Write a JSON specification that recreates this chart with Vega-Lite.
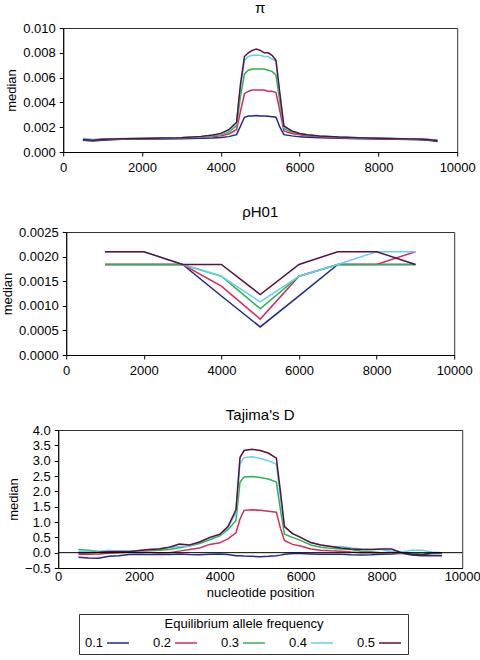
{
"$schema": "https://vega.github.io/schema/vega-lite/v6.json",
"background": "white",
"padding": {"top": 0, "left": 0, "right": 2, "bottom": 2},
"center": true,
"spacing": 29,
"config": {
  "font": "Liberation Sans",
  "view": {"stroke": "#333", "strokeWidth": 1},
  "title": {"fontSize": 15, "fontWeight": "normal", "color": "black", "font": "Liberation Sans"},
  "axis": {"labelFont": "Liberation Sans", "labelFontSize": 13, "labelColor": "black", "titleFont": "Liberation Sans", "titleFontSize": 13, "titleFontWeight": "normal", "titleColor": "black", "domainColor": "black", "tickColor": "black", "tickSize": 4, "grid": false, "labelPadding": 4, "labelOverlap": false, "labelFlush": false},
  "axisX": {"labelPadding": 5},
  "line": {"strokeWidth": 1.5},
  "legend": {"labelFont": "Liberation Sans", "titleFont": "Liberation Sans"}
},
"datasets": {
  "pi": [
{"pos":500,"freq":"0.1","median":0.00095},{"pos":500,"freq":"0.2","median":0.001},{"pos":500,"freq":"0.3","median":0.001},{"pos":500,"freq":"0.4","median":0.0011},{"pos":500,"freq":"0.5","median":0.001},
{"pos":750,"freq":"0.1","median":0.00088},{"pos":750,"freq":"0.2","median":0.00095},{"pos":750,"freq":"0.3","median":0.00098},{"pos":750,"freq":"0.4","median":0.001},{"pos":750,"freq":"0.5","median":0.00095},
{"pos":1000,"freq":"0.1","median":0.00095},{"pos":1000,"freq":"0.2","median":0.001},{"pos":1000,"freq":"0.3","median":0.00102},{"pos":1000,"freq":"0.4","median":0.00105},{"pos":1000,"freq":"0.5","median":0.00102},
{"pos":1500,"freq":"0.1","median":0.00102},{"pos":1500,"freq":"0.2","median":0.00106},{"pos":1500,"freq":"0.3","median":0.00105},{"pos":1500,"freq":"0.4","median":0.00108},{"pos":1500,"freq":"0.5","median":0.00107},
{"pos":2000,"freq":"0.1","median":0.00104},{"pos":2000,"freq":"0.2","median":0.00108},{"pos":2000,"freq":"0.3","median":0.00108},{"pos":2000,"freq":"0.4","median":0.0011},{"pos":2000,"freq":"0.5","median":0.00109},
{"pos":2500,"freq":"0.1","median":0.00105},{"pos":2500,"freq":"0.2","median":0.0011},{"pos":2500,"freq":"0.3","median":0.0011},{"pos":2500,"freq":"0.4","median":0.00112},{"pos":2500,"freq":"0.5","median":0.00112},
{"pos":3000,"freq":"0.1","median":0.00106},{"pos":3000,"freq":"0.2","median":0.00112},{"pos":3000,"freq":"0.3","median":0.00114},{"pos":3000,"freq":"0.4","median":0.00116},{"pos":3000,"freq":"0.5","median":0.00115},
{"pos":3500,"freq":"0.1","median":0.0011},{"pos":3500,"freq":"0.2","median":0.00118},{"pos":3500,"freq":"0.3","median":0.00122},{"pos":3500,"freq":"0.4","median":0.00125},{"pos":3500,"freq":"0.5","median":0.00126},
{"pos":3800,"freq":"0.1","median":0.00112},{"pos":3800,"freq":"0.2","median":0.00124},{"pos":3800,"freq":"0.3","median":0.0013},{"pos":3800,"freq":"0.4","median":0.00135},{"pos":3800,"freq":"0.5","median":0.00138},
{"pos":4000,"freq":"0.1","median":0.00116},{"pos":4000,"freq":"0.2","median":0.0013},{"pos":4000,"freq":"0.3","median":0.0014},{"pos":4000,"freq":"0.4","median":0.00146},{"pos":4000,"freq":"0.5","median":0.0015},
{"pos":4200,"freq":"0.1","median":0.00124},{"pos":4200,"freq":"0.2","median":0.00145},{"pos":4200,"freq":"0.3","median":0.0016},{"pos":4200,"freq":"0.4","median":0.0017},{"pos":4200,"freq":"0.5","median":0.0018},
{"pos":4400,"freq":"0.1","median":0.0014},{"pos":4400,"freq":"0.2","median":0.0018},{"pos":4400,"freq":"0.3","median":0.0021},{"pos":4400,"freq":"0.4","median":0.0023},{"pos":4400,"freq":"0.5","median":0.0024},
{"pos":4500,"freq":"0.1","median":0.0021},{"pos":4500,"freq":"0.2","median":0.0033},{"pos":4500,"freq":"0.3","median":0.0045},{"pos":4500,"freq":"0.4","median":0.0052},{"pos":4500,"freq":"0.5","median":0.0055},
{"pos":4600,"freq":"0.1","median":0.0028},{"pos":4600,"freq":"0.2","median":0.0047},{"pos":4600,"freq":"0.3","median":0.0063},{"pos":4600,"freq":"0.4","median":0.0074},{"pos":4600,"freq":"0.5","median":0.0077},
{"pos":4700,"freq":"0.1","median":0.0029},{"pos":4700,"freq":"0.2","median":0.0049},{"pos":4700,"freq":"0.3","median":0.0066},{"pos":4700,"freq":"0.4","median":0.0077},{"pos":4700,"freq":"0.5","median":0.008},
{"pos":4800,"freq":"0.1","median":0.0029},{"pos":4800,"freq":"0.2","median":0.005},{"pos":4800,"freq":"0.3","median":0.0067},{"pos":4800,"freq":"0.4","median":0.0078},{"pos":4800,"freq":"0.5","median":0.0082},
{"pos":4900,"freq":"0.1","median":0.00295},{"pos":4900,"freq":"0.2","median":0.005},{"pos":4900,"freq":"0.3","median":0.0067},{"pos":4900,"freq":"0.4","median":0.0078},{"pos":4900,"freq":"0.5","median":0.0083},
{"pos":5000,"freq":"0.1","median":0.0029},{"pos":5000,"freq":"0.2","median":0.005},{"pos":5000,"freq":"0.3","median":0.0067},{"pos":5000,"freq":"0.4","median":0.0078},{"pos":5000,"freq":"0.5","median":0.0082},
{"pos":5100,"freq":"0.1","median":0.0029},{"pos":5100,"freq":"0.2","median":0.005},{"pos":5100,"freq":"0.3","median":0.0067},{"pos":5100,"freq":"0.4","median":0.0077},{"pos":5100,"freq":"0.5","median":0.008},
{"pos":5200,"freq":"0.1","median":0.00288},{"pos":5200,"freq":"0.2","median":0.0049},{"pos":5200,"freq":"0.3","median":0.0066},{"pos":5200,"freq":"0.4","median":0.0077},{"pos":5200,"freq":"0.5","median":0.008},
{"pos":5300,"freq":"0.1","median":0.00284},{"pos":5300,"freq":"0.2","median":0.0049},{"pos":5300,"freq":"0.3","median":0.0065},{"pos":5300,"freq":"0.4","median":0.0075},{"pos":5300,"freq":"0.5","median":0.0078},
{"pos":5400,"freq":"0.1","median":0.0028},{"pos":5400,"freq":"0.2","median":0.0048},{"pos":5400,"freq":"0.3","median":0.0062},{"pos":5400,"freq":"0.4","median":0.0073},{"pos":5400,"freq":"0.5","median":0.0074},
{"pos":5500,"freq":"0.1","median":0.002},{"pos":5500,"freq":"0.2","median":0.0033},{"pos":5500,"freq":"0.3","median":0.004},{"pos":5500,"freq":"0.4","median":0.0045},{"pos":5500,"freq":"0.5","median":0.0047},
{"pos":5600,"freq":"0.1","median":0.0014},{"pos":5600,"freq":"0.2","median":0.0017},{"pos":5600,"freq":"0.3","median":0.0019},{"pos":5600,"freq":"0.4","median":0.002},{"pos":5600,"freq":"0.5","median":0.0021},
{"pos":5800,"freq":"0.1","median":0.0013},{"pos":5800,"freq":"0.2","median":0.0015},{"pos":5800,"freq":"0.3","median":0.0016},{"pos":5800,"freq":"0.4","median":0.0017},{"pos":5800,"freq":"0.5","median":0.0017},
{"pos":6000,"freq":"0.1","median":0.00122},{"pos":6000,"freq":"0.2","median":0.0014},{"pos":6000,"freq":"0.3","median":0.00145},{"pos":6000,"freq":"0.4","median":0.0015},{"pos":6000,"freq":"0.5","median":0.0015},
{"pos":6200,"freq":"0.1","median":0.00118},{"pos":6200,"freq":"0.2","median":0.0013},{"pos":6200,"freq":"0.3","median":0.00135},{"pos":6200,"freq":"0.4","median":0.0014},{"pos":6200,"freq":"0.5","median":0.0014},
{"pos":6500,"freq":"0.1","median":0.00114},{"pos":6500,"freq":"0.2","median":0.00122},{"pos":6500,"freq":"0.3","median":0.00126},{"pos":6500,"freq":"0.4","median":0.0013},{"pos":6500,"freq":"0.5","median":0.0013},
{"pos":7000,"freq":"0.1","median":0.0011},{"pos":7000,"freq":"0.2","median":0.00115},{"pos":7000,"freq":"0.3","median":0.00118},{"pos":7000,"freq":"0.4","median":0.0012},{"pos":7000,"freq":"0.5","median":0.0012},
{"pos":7500,"freq":"0.1","median":0.00106},{"pos":7500,"freq":"0.2","median":0.0011},{"pos":7500,"freq":"0.3","median":0.00112},{"pos":7500,"freq":"0.4","median":0.00115},{"pos":7500,"freq":"0.5","median":0.00115},
{"pos":8000,"freq":"0.1","median":0.00104},{"pos":8000,"freq":"0.2","median":0.00108},{"pos":8000,"freq":"0.3","median":0.0011},{"pos":8000,"freq":"0.4","median":0.00112},{"pos":8000,"freq":"0.5","median":0.0011},
{"pos":8500,"freq":"0.1","median":0.00102},{"pos":8500,"freq":"0.2","median":0.00105},{"pos":8500,"freq":"0.3","median":0.00106},{"pos":8500,"freq":"0.4","median":0.00108},{"pos":8500,"freq":"0.5","median":0.00107},
{"pos":9000,"freq":"0.1","median":0.00098},{"pos":9000,"freq":"0.2","median":0.00102},{"pos":9000,"freq":"0.3","median":0.00103},{"pos":9000,"freq":"0.4","median":0.00105},{"pos":9000,"freq":"0.5","median":0.00104},
{"pos":9250,"freq":"0.1","median":0.00094},{"pos":9250,"freq":"0.2","median":0.00098},{"pos":9250,"freq":"0.3","median":0.001},{"pos":9250,"freq":"0.4","median":0.00102},{"pos":9250,"freq":"0.5","median":0.001},
{"pos":9500,"freq":"0.1","median":0.00085},{"pos":9500,"freq":"0.2","median":0.0009},{"pos":9500,"freq":"0.3","median":0.00092},{"pos":9500,"freq":"0.4","median":0.00095},{"pos":9500,"freq":"0.5","median":0.00092}
  ],
  "rho": [
{"pos":1000,"freq":"0.1","median":0.00184},{"pos":2000,"freq":"0.1","median":0.00184},{"pos":3000,"freq":"0.1","median":0.00184},{"pos":4000,"freq":"0.1","median":0.0012},{"pos":5000,"freq":"0.1","median":0.00057},{"pos":6000,"freq":"0.1","median":0.0012},{"pos":7000,"freq":"0.1","median":0.00184},{"pos":8000,"freq":"0.1","median":0.00184},{"pos":9000,"freq":"0.1","median":0.00184},
{"pos":1000,"freq":"0.2","median":0.00184},{"pos":2000,"freq":"0.2","median":0.00184},{"pos":3000,"freq":"0.2","median":0.00184},{"pos":4000,"freq":"0.2","median":0.0014},{"pos":5000,"freq":"0.2","median":0.00073},{"pos":6000,"freq":"0.2","median":0.0016},{"pos":7000,"freq":"0.2","median":0.00184},{"pos":8000,"freq":"0.2","median":0.00184},{"pos":9000,"freq":"0.2","median":0.0021},
{"pos":1000,"freq":"0.3","median":0.00184},{"pos":2000,"freq":"0.3","median":0.00184},{"pos":3000,"freq":"0.3","median":0.00184},{"pos":4000,"freq":"0.3","median":0.0016},{"pos":5000,"freq":"0.3","median":0.00094},{"pos":6000,"freq":"0.3","median":0.0016},{"pos":7000,"freq":"0.3","median":0.00184},{"pos":8000,"freq":"0.3","median":0.00184},{"pos":9000,"freq":"0.3","median":0.00184},
{"pos":1000,"freq":"0.4","median":0.0021},{"pos":2000,"freq":"0.4","median":0.0021},{"pos":3000,"freq":"0.4","median":0.00184},{"pos":4000,"freq":"0.4","median":0.0016},{"pos":5000,"freq":"0.4","median":0.00108},{"pos":6000,"freq":"0.4","median":0.0016},{"pos":7000,"freq":"0.4","median":0.00184},{"pos":8000,"freq":"0.4","median":0.0021},{"pos":9000,"freq":"0.4","median":0.0021},
{"pos":1000,"freq":"0.5","median":0.0021},{"pos":2000,"freq":"0.5","median":0.0021},{"pos":3000,"freq":"0.5","median":0.00184},{"pos":4000,"freq":"0.5","median":0.00184},{"pos":5000,"freq":"0.5","median":0.00123},{"pos":6000,"freq":"0.5","median":0.00184},{"pos":7000,"freq":"0.5","median":0.0021},{"pos":8000,"freq":"0.5","median":0.0021},{"pos":9000,"freq":"0.5","median":0.00184}
  ],
  "tajd": [
{"pos":500,"freq":"0.1","median":-0.15},{"pos":500,"freq":"0.2","median":-0.05},{"pos":500,"freq":"0.3","median":0.1},{"pos":500,"freq":"0.4","median":0.05},{"pos":500,"freq":"0.5","median":0.0},
{"pos":750,"freq":"0.1","median":-0.17},{"pos":750,"freq":"0.2","median":-0.05},{"pos":750,"freq":"0.3","median":0.08},{"pos":750,"freq":"0.4","median":0.05},{"pos":750,"freq":"0.5","median":0.0},
{"pos":1000,"freq":"0.1","median":-0.18},{"pos":1000,"freq":"0.2","median":-0.04},{"pos":1000,"freq":"0.3","median":0.04},{"pos":1000,"freq":"0.4","median":0.03},{"pos":1000,"freq":"0.5","median":0.01},
{"pos":1250,"freq":"0.1","median":-0.12},{"pos":1250,"freq":"0.2","median":-0.02},{"pos":1250,"freq":"0.3","median":0.05},{"pos":1250,"freq":"0.4","median":0.08},{"pos":1250,"freq":"0.5","median":0.03},
{"pos":1500,"freq":"0.1","median":-0.1},{"pos":1500,"freq":"0.2","median":0.0},{"pos":1500,"freq":"0.3","median":0.04},{"pos":1500,"freq":"0.4","median":0.05},{"pos":1500,"freq":"0.5","median":0.04},
{"pos":1750,"freq":"0.1","median":-0.06},{"pos":1750,"freq":"0.2","median":0.01},{"pos":1750,"freq":"0.3","median":0.05},{"pos":1750,"freq":"0.4","median":0.06},{"pos":1750,"freq":"0.5","median":0.03},
{"pos":2000,"freq":"0.1","median":-0.05},{"pos":2000,"freq":"0.2","median":0.02},{"pos":2000,"freq":"0.3","median":0.06},{"pos":2000,"freq":"0.4","median":0.06},{"pos":2000,"freq":"0.5","median":0.07},
{"pos":2250,"freq":"0.1","median":-0.06},{"pos":2250,"freq":"0.2","median":0.01},{"pos":2250,"freq":"0.3","median":0.08},{"pos":2250,"freq":"0.4","median":0.1},{"pos":2250,"freq":"0.5","median":0.1},
{"pos":2500,"freq":"0.1","median":-0.05},{"pos":2500,"freq":"0.2","median":0.0},{"pos":2500,"freq":"0.3","median":0.08},{"pos":2500,"freq":"0.4","median":0.14},{"pos":2500,"freq":"0.5","median":0.12},
{"pos":2750,"freq":"0.1","median":-0.06},{"pos":2750,"freq":"0.2","median":0.0},{"pos":2750,"freq":"0.3","median":0.1},{"pos":2750,"freq":"0.4","median":0.17},{"pos":2750,"freq":"0.5","median":0.18},
{"pos":3000,"freq":"0.1","median":-0.04},{"pos":3000,"freq":"0.2","median":0.05},{"pos":3000,"freq":"0.3","median":0.16},{"pos":3000,"freq":"0.4","median":0.2},{"pos":3000,"freq":"0.5","median":0.28},
{"pos":3250,"freq":"0.1","median":-0.06},{"pos":3250,"freq":"0.2","median":0.1},{"pos":3250,"freq":"0.3","median":0.22},{"pos":3250,"freq":"0.4","median":0.22},{"pos":3250,"freq":"0.5","median":0.25},
{"pos":3500,"freq":"0.1","median":-0.07},{"pos":3500,"freq":"0.2","median":0.15},{"pos":3500,"freq":"0.3","median":0.3},{"pos":3500,"freq":"0.4","median":0.35},{"pos":3500,"freq":"0.5","median":0.35},
{"pos":3750,"freq":"0.1","median":-0.05},{"pos":3750,"freq":"0.2","median":0.27},{"pos":3750,"freq":"0.3","median":0.42},{"pos":3750,"freq":"0.4","median":0.48},{"pos":3750,"freq":"0.5","median":0.5},
{"pos":4000,"freq":"0.1","median":-0.04},{"pos":4000,"freq":"0.2","median":0.32},{"pos":4000,"freq":"0.3","median":0.55},{"pos":4000,"freq":"0.4","median":0.58},{"pos":4000,"freq":"0.5","median":0.6},
{"pos":4200,"freq":"0.1","median":-0.06},{"pos":4200,"freq":"0.2","median":0.45},{"pos":4200,"freq":"0.3","median":0.75},{"pos":4200,"freq":"0.4","median":0.8},{"pos":4200,"freq":"0.5","median":0.85},
{"pos":4400,"freq":"0.1","median":-0.1},{"pos":4400,"freq":"0.2","median":0.65},{"pos":4400,"freq":"0.3","median":1.05},{"pos":4400,"freq":"0.4","median":1.3},{"pos":4400,"freq":"0.5","median":1.4},
{"pos":4500,"freq":"0.1","median":-0.1},{"pos":4500,"freq":"0.2","median":1.1},{"pos":4500,"freq":"0.3","median":2.3},{"pos":4500,"freq":"0.4","median":2.9},{"pos":4500,"freq":"0.5","median":3.1},
{"pos":4600,"freq":"0.1","median":-0.11},{"pos":4600,"freq":"0.2","median":1.38},{"pos":4600,"freq":"0.3","median":2.47},{"pos":4600,"freq":"0.4","median":3.1},{"pos":4600,"freq":"0.5","median":3.33},
{"pos":4800,"freq":"0.1","median":-0.12},{"pos":4800,"freq":"0.2","median":1.4},{"pos":4800,"freq":"0.3","median":2.48},{"pos":4800,"freq":"0.4","median":3.13},{"pos":4800,"freq":"0.5","median":3.37},
{"pos":5000,"freq":"0.1","median":-0.13},{"pos":5000,"freq":"0.2","median":1.38},{"pos":5000,"freq":"0.3","median":2.45},{"pos":5000,"freq":"0.4","median":3.07},{"pos":5000,"freq":"0.5","median":3.33},
{"pos":5200,"freq":"0.1","median":-0.12},{"pos":5200,"freq":"0.2","median":1.35},{"pos":5200,"freq":"0.3","median":2.4},{"pos":5200,"freq":"0.4","median":3.0},{"pos":5200,"freq":"0.5","median":3.25},
{"pos":5400,"freq":"0.1","median":-0.1},{"pos":5400,"freq":"0.2","median":1.32},{"pos":5400,"freq":"0.3","median":2.3},{"pos":5400,"freq":"0.4","median":2.88},{"pos":5400,"freq":"0.5","median":3.08},
{"pos":5500,"freq":"0.1","median":-0.08},{"pos":5500,"freq":"0.2","median":0.8},{"pos":5500,"freq":"0.3","median":1.4},{"pos":5500,"freq":"0.4","median":1.8},{"pos":5500,"freq":"0.5","median":2.0},
{"pos":5600,"freq":"0.1","median":-0.05},{"pos":5600,"freq":"0.2","median":0.4},{"pos":5600,"freq":"0.3","median":0.6},{"pos":5600,"freq":"0.4","median":0.85},{"pos":5600,"freq":"0.5","median":0.85},
{"pos":5800,"freq":"0.1","median":-0.03},{"pos":5800,"freq":"0.2","median":0.27},{"pos":5800,"freq":"0.3","median":0.5},{"pos":5800,"freq":"0.4","median":0.62},{"pos":5800,"freq":"0.5","median":0.62},
{"pos":6000,"freq":"0.1","median":-0.03},{"pos":6000,"freq":"0.2","median":0.22},{"pos":6000,"freq":"0.3","median":0.4},{"pos":6000,"freq":"0.4","median":0.5},{"pos":6000,"freq":"0.5","median":0.5},
{"pos":6250,"freq":"0.1","median":-0.04},{"pos":6250,"freq":"0.2","median":0.12},{"pos":6250,"freq":"0.3","median":0.25},{"pos":6250,"freq":"0.4","median":0.33},{"pos":6250,"freq":"0.5","median":0.33},
{"pos":6500,"freq":"0.1","median":-0.05},{"pos":6500,"freq":"0.2","median":0.08},{"pos":6500,"freq":"0.3","median":0.18},{"pos":6500,"freq":"0.4","median":0.25},{"pos":6500,"freq":"0.5","median":0.25},
{"pos":6750,"freq":"0.1","median":-0.05},{"pos":6750,"freq":"0.2","median":0.06},{"pos":6750,"freq":"0.3","median":0.14},{"pos":6750,"freq":"0.4","median":0.2},{"pos":6750,"freq":"0.5","median":0.2},
{"pos":7000,"freq":"0.1","median":-0.05},{"pos":7000,"freq":"0.2","median":0.05},{"pos":7000,"freq":"0.3","median":0.12},{"pos":7000,"freq":"0.4","median":0.2},{"pos":7000,"freq":"0.5","median":0.15},
{"pos":7250,"freq":"0.1","median":-0.07},{"pos":7250,"freq":"0.2","median":0.02},{"pos":7250,"freq":"0.3","median":0.1},{"pos":7250,"freq":"0.4","median":0.15},{"pos":7250,"freq":"0.5","median":0.12},
{"pos":7500,"freq":"0.1","median":-0.08},{"pos":7500,"freq":"0.2","median":0.0},{"pos":7500,"freq":"0.3","median":0.05},{"pos":7500,"freq":"0.4","median":0.12},{"pos":7500,"freq":"0.5","median":0.1},
{"pos":7750,"freq":"0.1","median":-0.07},{"pos":7750,"freq":"0.2","median":0.0},{"pos":7750,"freq":"0.3","median":0.03},{"pos":7750,"freq":"0.4","median":0.1},{"pos":7750,"freq":"0.5","median":0.1},
{"pos":8000,"freq":"0.1","median":-0.05},{"pos":8000,"freq":"0.2","median":-0.02},{"pos":8000,"freq":"0.3","median":0.0},{"pos":8000,"freq":"0.4","median":0.1},{"pos":8000,"freq":"0.5","median":0.12},
{"pos":8250,"freq":"0.1","median":-0.04},{"pos":8250,"freq":"0.2","median":0.0},{"pos":8250,"freq":"0.3","median":0.02},{"pos":8250,"freq":"0.4","median":0.05},{"pos":8250,"freq":"0.5","median":0.12},
{"pos":8500,"freq":"0.1","median":-0.02},{"pos":8500,"freq":"0.2","median":0.0},{"pos":8500,"freq":"0.3","median":-0.02},{"pos":8500,"freq":"0.4","median":0.02},{"pos":8500,"freq":"0.5","median":0.0},
{"pos":8750,"freq":"0.1","median":-0.08},{"pos":8750,"freq":"0.2","median":-0.03},{"pos":8750,"freq":"0.3","median":-0.03},{"pos":8750,"freq":"0.4","median":0.08},{"pos":8750,"freq":"0.5","median":-0.05},
{"pos":9000,"freq":"0.1","median":-0.1},{"pos":9000,"freq":"0.2","median":-0.05},{"pos":9000,"freq":"0.3","median":-0.05},{"pos":9000,"freq":"0.4","median":0.08},{"pos":9000,"freq":"0.5","median":-0.08},
{"pos":9250,"freq":"0.1","median":-0.09},{"pos":9250,"freq":"0.2","median":-0.03},{"pos":9250,"freq":"0.3","median":-0.02},{"pos":9250,"freq":"0.4","median":0.02},{"pos":9250,"freq":"0.5","median":0.0},
{"pos":9500,"freq":"0.1","median":-0.1},{"pos":9500,"freq":"0.2","median":-0.03},{"pos":9500,"freq":"0.3","median":-0.02},{"pos":9500,"freq":"0.4","median":0.0},{"pos":9500,"freq":"0.5","median":0.0}
  ],
  "zero": [{"median": 0}]
},
"vconcat": [
  {
    "title": {"text": "π", "offset": 6},
    "width": 394, "height": 124,
    "data": {"name": "pi"},
    "mark": {"type": "line", "strokeWidth": 1.5},
    "encoding": {
      "x": {"field": "pos", "type": "quantitative", "scale": {"domain": [0, 10000], "nice": false}, "axis": {"title": null, "values": [0,2000,4000,6000,8000,10000], "format": "d", "labelOverlap": false, "labelFlush": false}},
      "y": {"field": "median", "type": "quantitative", "scale": {"domain": [0, 0.01], "nice": false}, "axis": {"title": "median", "values": [0,0.002,0.004,0.006,0.008,0.01], "format": ".3f", "titlePadding": 4, "labelOverlap": false}},
      "color": {"field": "freq", "type": "nominal", "scale": {"domain": ["0.1","0.2","0.3","0.4","0.5"], "range": ["#1c2a8e","#d62a5c","#2fb34c","#62d0f0","#5a1040"]},
        "legend": {"title": "Equilibrium allele frequency", "orient": "none", "legendX": 21, "legendY": 586, "direction": "horizontal", "columns": 5, "titleAnchor": "middle", "titleFontSize": 13, "titleFontWeight": "normal", "titleColor": "black", "labelFontSize": 13, "labelColor": "black", "symbolType": "stroke", "symbolSize": 484, "symbolStrokeWidth": 1.5, "symbolOffset": 23, "labelAlign": "left", "labelOffset": -45, "columnPadding": 19, "strokeColor": "#333", "fillColor": "white", "padding": 4, "titlePadding": 0}
      }
    }
  },
  {
    "title": {"text": "ρH01", "offset": 6},
    "width": 388, "height": 123,
    "data": {"name": "rho"},
    "mark": {"type": "line", "strokeWidth": 1.5},
    "encoding": {
      "x": {"field": "pos", "type": "quantitative", "scale": {"domain": [0, 10000], "nice": false}, "axis": {"title": null, "values": [0,2000,4000,6000,8000,10000], "format": "d", "labelOverlap": false, "labelFlush": false}},
      "y": {"field": "median", "type": "quantitative", "scale": {"domain": [0, 0.0025], "nice": false}, "axis": {"title": "median", "values": [0,0.0005,0.001,0.0015,0.002,0.0025], "format": ".4f", "titlePadding": 4, "labelOverlap": false}},
      "color": {"field": "freq", "type": "nominal"}
    }
  },
  {
    "title": {"text": "Tajima's D", "offset": 1},
    "width": 404, "height": 138,
    "layer": [
      {
        "data": {"name": "tajd"},
        "mark": {"type": "line", "strokeWidth": 1.5},
        "encoding": {
          "x": {"field": "pos", "type": "quantitative", "scale": {"domain": [0, 10000], "nice": false}, "axis": {"title": "nucleotide position", "values": [0,2000,4000,6000,8000,10000], "format": "d", "titlePadding": 3, "labelOverlap": false, "labelFlush": false, "ticks": false, "labelPadding": 2}},
          "y": {"field": "median", "type": "quantitative", "scale": {"domain": [-0.5, 4], "nice": false}, "axis": {"title": "median", "values": [-0.5,0,0.5,1,1.5,2,2.5,3,3.5,4], "format": ".1f", "titlePadding": 4, "labelOverlap": false}},
          "color": {"field": "freq", "type": "nominal"}
        }
      },
      {
        "data": {"name": "zero"},
        "mark": {"type": "rule", "color": "black", "strokeWidth": 1},
        "encoding": {"y": {"field": "median", "type": "quantitative", "axis": {"title": "median", "values": [-0.5,0,0.5,1,1.5,2,2.5,3,3.5,4], "format": ".1f", "titlePadding": 4, "labelOverlap": false}}}
      }
    ]
  }
]
}
